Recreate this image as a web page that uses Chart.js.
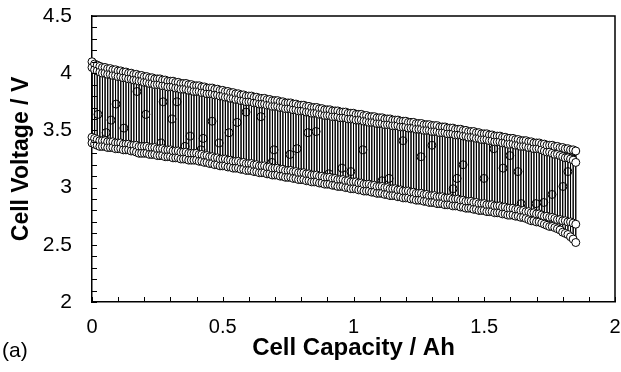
<!DOCTYPE html>
<html>
<head>
<meta charset="utf-8">
<script src="https://cdn.jsdelivr.net/npm/chart.js@4"></script>
<style>
  html, body { margin: 0; padding: 0; background: #fff; }
  #wrap { width: 621px; height: 372px; position: relative; }
</style>
</head>
<body>
<div id="wrap"><canvas id="pulseChart"></canvas></div>
<script>
// Capacity at each pulse (Ah)
const capAh = [
  0.00,0.01,0.02,0.03,0.04,0.05,0.06,0.07,0.08,0.09,
  0.10,0.11,0.12,0.13,0.14,0.15,0.16,0.17,0.18,0.19,
  0.20,0.21,0.22,0.23,0.24,0.25,0.26,0.27,0.28,0.29,
  0.30,0.31,0.32,0.33,0.34,0.35,0.36,0.37,0.38,0.39,
  0.40,0.41,0.42,0.43,0.44,0.45,0.46,0.47,0.48,0.49,
  0.50,0.51,0.52,0.53,0.54,0.55,0.56,0.57,0.58,0.59,
  0.60,0.61,0.62,0.63,0.64,0.65,0.66,0.67,0.68,0.69,
  0.70,0.71,0.72,0.73,0.74,0.75,0.76,0.77,0.78,0.79,
  0.80,0.81,0.82,0.83,0.84,0.85,0.86,0.87,0.88,0.89,
  0.90,0.91,0.92,0.93,0.94,0.95,0.96,0.97,0.98,0.99,
  1.00,1.01,1.02,1.03,1.04,1.05,1.06,1.07,1.08,1.09,
  1.10,1.11,1.12,1.13,1.14,1.15,1.16,1.17,1.18,1.19,
  1.20,1.21,1.22,1.23,1.24,1.25,1.26,1.27,1.28,1.29,
  1.30,1.31,1.32,1.33,1.34,1.35,1.36,1.37,1.38,1.39,
  1.40,1.41,1.42,1.43,1.44,1.45,1.46,1.47,1.48,1.49,
  1.50,1.51,1.52,1.53,1.54,1.55,1.56,1.57,1.58,1.59,
  1.60,1.61,1.62,1.63,1.64,1.65,1.66,1.67,1.68,1.69,
  1.70,1.71,1.72,1.73,1.74,1.75,1.76,1.77,1.78,1.79,
  1.80,1.81,1.82,1.83,1.84,1.85
];

// Rest voltage before each pulse (top row)
const restV = [
  4.10,4.08,4.07,4.06,4.05,4.05,4.04,4.04,4.03,4.03,
  4.02,4.02,4.01,4.01,4.00,4.00,3.99,3.99,3.98,3.98,
  3.97,3.97,3.96,3.96,3.95,3.95,3.95,3.94,3.94,3.93,
  3.93,3.93,3.92,3.92,3.91,3.91,3.91,3.90,3.90,3.89,
  3.89,3.89,3.88,3.88,3.87,3.87,3.87,3.86,3.86,3.85,
  3.85,3.84,3.84,3.83,3.83,3.82,3.82,3.81,3.81,3.80,
  3.80,3.80,3.79,3.79,3.78,3.78,3.78,3.77,3.77,3.76,
  3.76,3.76,3.75,3.75,3.74,3.74,3.74,3.73,3.73,3.72,
  3.72,3.72,3.71,3.71,3.70,3.70,3.70,3.69,3.69,3.68,
  3.68,3.68,3.67,3.67,3.67,3.66,3.66,3.66,3.65,3.65,
  3.65,3.64,3.64,3.64,3.63,3.63,3.62,3.62,3.62,3.61,
  3.61,3.61,3.60,3.60,3.60,3.59,3.59,3.59,3.58,3.58,
  3.58,3.57,3.57,3.57,3.56,3.56,3.56,3.55,3.55,3.55,
  3.54,3.54,3.54,3.53,3.53,3.53,3.52,3.52,3.52,3.51,
  3.51,3.51,3.50,3.50,3.49,3.49,3.49,3.48,3.48,3.47,
  3.47,3.47,3.46,3.46,3.45,3.45,3.45,3.44,3.44,3.43,
  3.43,3.43,3.42,3.42,3.41,3.41,3.41,3.40,3.40,3.39,
  3.39,3.39,3.38,3.38,3.37,3.37,3.37,3.36,3.36,3.35,
  3.35,3.34,3.34,3.33,3.33,3.32
];

// Voltage right after the current is switched on
const loadStartV = [
  3.44,3.43,3.42,3.41,3.41,3.41,3.40,3.40,3.40,3.39,
  3.39,3.39,3.38,3.38,3.38,3.37,3.37,3.37,3.36,3.36,
  3.36,3.36,3.35,3.35,3.35,3.34,3.34,3.34,3.33,3.33,
  3.33,3.32,3.32,3.32,3.31,3.31,3.31,3.30,3.30,3.30,
  3.30,3.29,3.29,3.28,3.28,3.27,3.27,3.26,3.26,3.25,
  3.25,3.25,3.24,3.24,3.23,3.23,3.23,3.22,3.22,3.21,
  3.21,3.21,3.20,3.20,3.19,3.19,3.19,3.18,3.18,3.17,
  3.17,3.17,3.16,3.16,3.15,3.15,3.15,3.14,3.14,3.13,
  3.13,3.13,3.12,3.12,3.11,3.11,3.11,3.10,3.10,3.09,
  3.09,3.09,3.08,3.08,3.07,3.07,3.07,3.06,3.06,3.05,
  3.05,3.05,3.04,3.04,3.03,3.03,3.03,3.02,3.02,3.01,
  3.01,3.01,3.00,3.00,2.99,2.99,2.99,2.98,2.98,2.97,
  2.97,2.97,2.96,2.96,2.95,2.95,2.95,2.94,2.94,2.93,
  2.93,2.93,2.92,2.92,2.92,2.91,2.91,2.91,2.90,2.90,
  2.90,2.89,2.89,2.88,2.88,2.88,2.87,2.87,2.86,2.86,
  2.86,2.85,2.85,2.85,2.84,2.84,2.84,2.83,2.83,2.82,
  2.82,2.82,2.81,2.81,2.80,2.80,2.79,2.79,2.78,2.78,
  2.77,2.77,2.76,2.75,2.75,2.74,2.74,2.73,2.72,2.72,
  2.71,2.71,2.70,2.70,2.69,2.68
];

// Voltage at the end of each pulse (bottom row)
const loadEndV = [
  3.39,3.38,3.37,3.36,3.36,3.36,3.35,3.35,3.35,3.34,
  3.34,3.34,3.33,3.33,3.33,3.32,3.32,3.31,3.30,3.30,
  3.30,3.30,3.29,3.29,3.29,3.28,3.28,3.28,3.27,3.27,
  3.27,3.26,3.26,3.26,3.25,3.25,3.25,3.24,3.24,3.24,
  3.24,3.23,3.23,3.22,3.22,3.21,3.21,3.20,3.20,3.19,
  3.19,3.19,3.18,3.18,3.17,3.17,3.17,3.16,3.16,3.15,
  3.15,3.15,3.14,3.14,3.13,3.13,3.13,3.12,3.12,3.11,
  3.11,3.11,3.10,3.10,3.09,3.09,3.09,3.08,3.08,3.07,
  3.07,3.07,3.06,3.06,3.05,3.05,3.05,3.04,3.04,3.03,
  3.03,3.03,3.02,3.02,3.01,3.01,3.01,3.00,3.00,2.99,
  2.99,2.99,2.98,2.98,2.97,2.97,2.97,2.96,2.96,2.95,
  2.95,2.95,2.94,2.94,2.93,2.93,2.93,2.92,2.92,2.91,
  2.91,2.91,2.90,2.90,2.89,2.89,2.89,2.88,2.88,2.87,
  2.87,2.87,2.86,2.86,2.86,2.85,2.85,2.85,2.84,2.84,
  2.84,2.83,2.83,2.82,2.82,2.82,2.81,2.81,2.80,2.80,
  2.80,2.79,2.79,2.79,2.78,2.78,2.78,2.77,2.77,2.76,
  2.76,2.76,2.75,2.75,2.74,2.74,2.73,2.72,2.71,2.71,
  2.70,2.70,2.69,2.68,2.67,2.66,2.66,2.65,2.64,2.63,
  2.61,2.60,2.59,2.57,2.55,2.52
];

// Voltage just after the current is switched off
const relaxV = [
  4.05,4.03,4.02,4.01,4.00,4.00,3.99,3.99,3.98,3.98,
  3.97,3.97,3.96,3.96,3.95,3.95,3.94,3.94,3.93,3.93,
  3.92,3.92,3.91,3.91,3.90,3.90,3.90,3.89,3.89,3.88,
  3.88,3.88,3.87,3.87,3.86,3.86,3.86,3.85,3.85,3.84,
  3.84,3.84,3.83,3.83,3.82,3.82,3.82,3.81,3.81,3.80,
  3.80,3.79,3.79,3.78,3.78,3.77,3.77,3.76,3.76,3.75,
  3.75,3.75,3.74,3.74,3.73,3.73,3.73,3.72,3.72,3.71,
  3.71,3.71,3.70,3.70,3.69,3.69,3.69,3.68,3.68,3.67,
  3.67,3.67,3.66,3.66,3.65,3.65,3.65,3.64,3.64,3.63,
  3.63,3.63,3.62,3.62,3.62,3.61,3.61,3.61,3.60,3.60,
  3.60,3.59,3.59,3.59,3.58,3.58,3.57,3.57,3.57,3.56,
  3.56,3.56,3.55,3.55,3.55,3.54,3.54,3.54,3.53,3.53,
  3.53,3.52,3.52,3.52,3.51,3.51,3.51,3.50,3.50,3.50,
  3.49,3.49,3.49,3.48,3.48,3.48,3.47,3.47,3.47,3.46,
  3.46,3.46,3.45,3.45,3.44,3.44,3.44,3.43,3.43,3.42,
  3.42,3.42,3.41,3.41,3.40,3.40,3.40,3.39,3.39,3.38,
  3.38,3.38,3.37,3.37,3.36,3.36,3.36,3.35,3.35,3.34,
  3.34,3.34,3.33,3.32,3.31,3.31,3.30,3.29,3.29,3.28,
  3.27,3.26,3.26,3.25,3.24,3.22
];

// Scattered readings taken part-way through pulses
const midCap = [
  0.023,0.054,0.073,0.092,0.122,0.172,0.206,0.264,0.272,0.306,
  0.325,0.356,0.375,0.417,0.425,0.459,0.486,0.524,0.555,0.589,
  0.646,0.688,0.696,0.757,0.784,0.826,0.857,0.906,0.956,0.990,
  1.036,1.109,1.136,1.189,1.258,1.300,1.381,1.396,1.419,1.499,
  1.537,1.572,1.598,1.629,1.641,1.698,1.728,1.759,1.801,1.820
];
const midV = [
  3.64,3.48,3.59,3.73,3.52,3.84,3.64,3.39,3.75,3.60,
  3.75,3.36,3.45,3.33,3.43,3.58,3.39,3.48,3.57,3.66,
  3.62,3.22,3.33,3.29,3.34,3.48,3.49,3.12,3.17,3.14,
  3.33,3.06,3.08,3.41,3.27,3.37,2.99,3.08,3.20,3.08,
  3.34,3.17,3.28,3.14,2.86,2.86,2.87,2.94,3.01,3.14
];

const xTicks = ['0', '0.5', '1', '1.5', '2'];
const yTicks = ['2', '2.5', '3', '3.5', '4', '4.5'];

// trace of each pulse: rest -> on -> end of pulse -> off
const pulsePath = [];
capAh.forEach((c, i) => {
  pulsePath.push({ x: c, y: restV[i] });
  pulsePath.push({ x: c, y: loadStartV[i] });
  pulsePath.push({ x: c, y: loadEndV[i] });
  pulsePath.push({ x: c, y: relaxV[i] });
});
const midPoints = midCap.map((c, i) => ({ x: c, y: midV[i] }));

const FONT = "'Liberation Sans', Arial, Helvetica, sans-serif";

function majorLabel(list) {
  return (v) => {
    const s = String(Math.round(v * 10) / 10);
    return list.includes(s) && Math.abs(v * 2 - Math.round(v * 2)) < 1e-6 ? s : '';
  };
}

// inward minor ticks, top/right frame and the panel tag
const framePlugin = {
  id: 'frame',
  afterDraw(chart) {
    const { ctx, chartArea: a, scales } = chart;
    ctx.save();
    ctx.strokeStyle = '#000';
    ctx.lineWidth = 1;
    ctx.beginPath();
    scales.x.ticks.forEach(t => {
      const px = Math.round(scales.x.getPixelForValue(t.value)) + 0.5;
      ctx.moveTo(px, a.bottom);
      ctx.lineTo(px, a.bottom - 5);
    });
    scales.y.ticks.forEach(t => {
      const py = Math.round(scales.y.getPixelForValue(t.value)) + 0.5;
      ctx.moveTo(a.left, py);
      ctx.lineTo(a.left + 5, py);
    });
    ctx.stroke();
    ctx.lineWidth = 1.5;
    ctx.beginPath();
    ctx.moveTo(a.left, a.top);
    ctx.lineTo(a.right, a.top);
    ctx.lineTo(a.right, a.bottom);
    ctx.stroke();
    ctx.fillStyle = '#000';
    ctx.font = '21px ' + FONT;
    ctx.textBaseline = 'middle';
    ctx.textAlign = 'left';
    ctx.fillText('(a)', 2, 351);
    ctx.restore();
  }
};

const pointStyle = {
  pointRadius: 4,
  pointHoverRadius: 4,
  pointBackgroundColor: '#fff',
  pointBorderColor: '#000',
  pointBorderWidth: 1
};

new Chart(document.getElementById('pulseChart'), {
  type: 'scatter',
  data: {
    datasets: [
      {
        data: pulsePath,
        showLine: true,
        borderColor: '#000',
        borderWidth: 1,
        tension: 0,
        clip: false,
        ...pointStyle
      },
      {
        data: midPoints,
        showLine: false,
        clip: false,
        ...pointStyle
      }
    ]
  },
  options: {
    responsive: true,
    maintainAspectRatio: false,
    animation: false,
    layout: { padding: { top: 16, right: 6, left: 0, bottom: 0 } },
    plugins: {
      legend: { display: false },
      tooltip: { enabled: false }
    },
    scales: {
      x: {
        type: 'linear',
        min: 0,
        max: 2,
        afterFit: (s) => { s.height = 70; s.paddingLeft = 0; s.paddingRight = 0; },
        ticks: {
          stepSize: 0.1,
          autoSkip: false,
          maxRotation: 0,
          padding: 5,
          color: '#000',
          font: { family: FONT, size: 20 },
          callback: majorLabel(xTicks)
        },
        grid: { display: false },
        border: { display: true, color: '#000', width: 1.5 },
        title: {
          display: true,
          text: 'Cell Capacity / Ah',
          color: '#000',
          font: { family: FONT, size: 24, weight: 'bold' },
          padding: { top: 0, bottom: 9 }
        }
      },
      y: {
        type: 'linear',
        min: 2,
        max: 4.5,
        afterFit: (s) => { s.width = 92; s.paddingTop = 0; s.paddingBottom = 0; },
        ticks: {
          stepSize: 0.1,
          autoSkip: false,
          padding: 12,
          color: '#000',
          font: { family: FONT, size: 21 },
          callback: majorLabel(yTicks)
        },
        grid: { display: false },
        border: { display: true, color: '#000', width: 1.5 },
        title: {
          display: true,
          text: 'Cell Voltage / V',
          color: '#000',
          font: { family: FONT, size: 23, weight: 'bold' },
          padding: { top: 8, bottom: 0 }
        }
      }
    }
  },
  plugins: [framePlugin]
});
</script>
</body>
</html>
